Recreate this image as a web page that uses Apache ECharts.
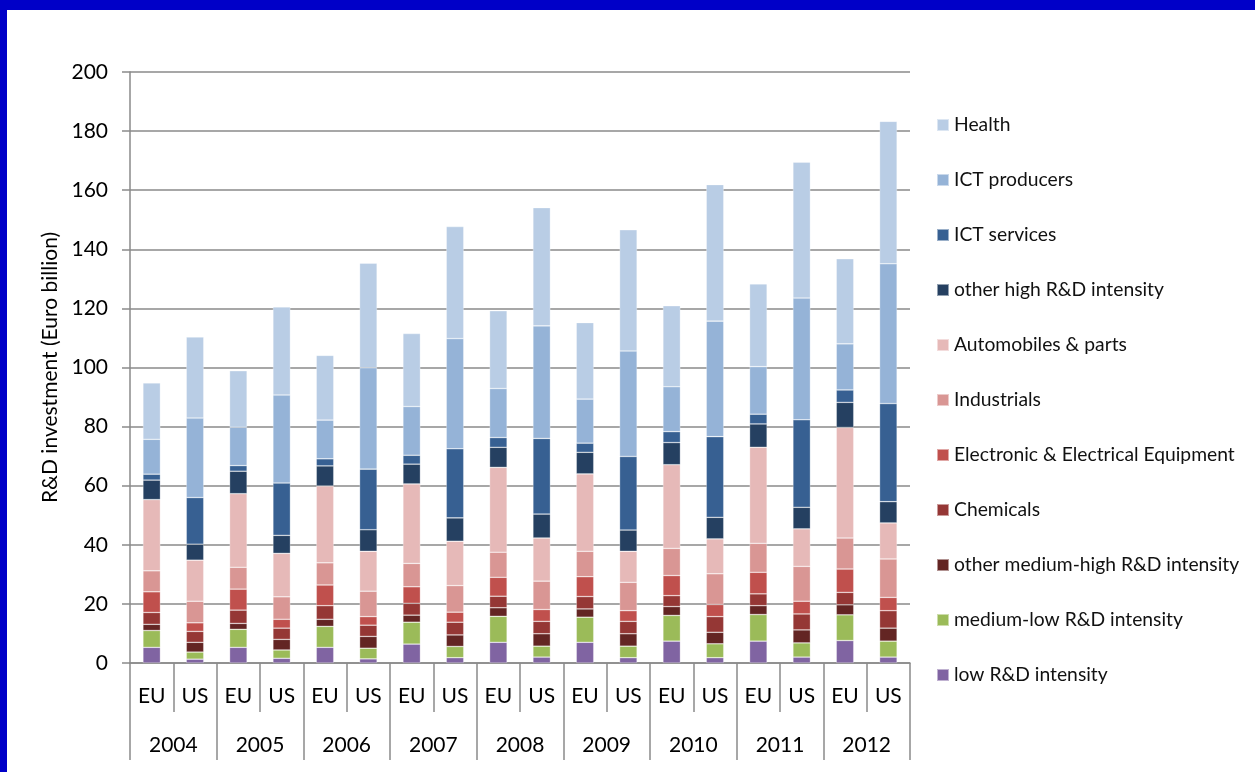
<!DOCTYPE html>
<html>
<head>
<meta charset="utf-8">
<title>R&amp;D investment EU vs US</title>
<script src="https://cdn.jsdelivr.net/npm/echarts@6/dist/echarts.min.js"></script>
<style>
  html, body { margin: 0; padding: 0; background: #fff; }
  #frame { position: absolute; left: 0; top: 0; width: 1255px; height: 772px; overflow: hidden; }
  #topbar { position: absolute; left: 0; top: 0; width: 1255px; height: 10px; background: #0000c8; }
  #leftbar { position: absolute; left: 0; top: 0; width: 7px; height: 772px; background: #0000c8; }
  #main { position: absolute; left: 0; top: 0; width: 1255px; height: 772px; }
</style>
</head>
<body>
<div id="frame">
  <div id="main"></div>
  <div id="topbar"></div>
  <div id="leftbar"></div>
</div>
<script type="text/javascript">
// bars: EU/US for each year
var regions = ['EU','US','EU','US','EU','US','EU','US','EU','US','EU','US','EU','US','EU','US','EU','US'];
var years = ['2004','2005','2006','2007','2008','2009','2010','2011','2012'];

// values in Euro billion, stacked from bottom to top
var lowRD      = [5.3, 1.3, 5.3, 1.6, 5.3, 1.4, 6.4, 1.8, 7.0, 2.0, 7.0, 1.8, 7.4, 1.8, 7.4, 2.0, 7.6, 2.0];
var medLowRD   = [5.7, 2.4, 6.1, 2.8, 7.1, 3.6, 7.4, 3.8, 8.8, 3.7, 8.5, 3.9, 8.7, 4.7, 9.0, 4.8, 8.7, 5.4];
var otherMedHi = [2.1, 3.3, 2.0, 3.6, 2.4, 4.0, 2.4, 3.9, 2.9, 4.2, 2.8, 4.2, 3.0, 3.9, 3.0, 4.4, 3.4, 4.4];
var chemicals  = [4.0, 3.7, 4.5, 3.8, 4.6, 3.8, 4.0, 4.3, 3.9, 4.2, 4.2, 4.2, 3.7, 5.3, 4.0, 5.4, 4.2, 5.9];
var electronic = [7.0, 2.9, 7.1, 3.0, 7.0, 2.9, 5.6, 3.4, 6.4, 4.0, 6.7, 3.6, 6.8, 4.1, 7.3, 4.3, 7.9, 4.5];
var industrials= [7.1, 7.3, 7.4, 7.6, 7.5, 8.6, 7.9, 9.0, 8.5, 9.6, 8.6, 9.6, 9.2, 10.4, 9.8, 11.8, 10.5, 13.0];
var automobiles= [24.1, 13.9, 24.9, 14.7, 26.0, 13.5, 26.9, 15.0, 28.7, 14.6, 26.2, 10.5, 28.3, 11.8, 32.5, 12.7, 37.4, 12.2];
var otherHigh  = [6.6, 5.4, 7.6, 6.1, 6.8, 7.3, 6.7, 7.9, 6.8, 8.1, 7.3, 7.2, 7.5, 7.3, 7.9, 7.3, 8.5, 7.2];
var ictServices= [2.0, 15.8, 1.9, 17.7, 2.4, 20.5, 3.0, 23.4, 3.3, 25.6, 3.1, 24.9, 3.7, 27.3, 3.3, 29.6, 4.2, 33.2];
var ictProducers=[11.8, 26.9, 13.0, 29.8, 13.1, 34.3, 16.5, 37.3, 16.6, 38.1, 14.9, 35.7, 15.2, 39.1, 16.1, 41.2, 15.6, 47.3];
var health     = [19.1, 27.4, 19.1, 29.8, 21.9, 35.4, 24.7, 37.9, 26.3, 40.0, 25.9, 41.0, 27.4, 46.2, 28.0, 46.0, 28.8, 48.2];

var yTicks = [0, 20, 40, 60, 80, 100, 120, 140, 160, 180, 200];

var font = 'Lato, "Open Sans", sans-serif';
var gray = '#8a8a8a';

var layers = [
  { name: 'low R&D intensity', data: lowRD, color: '#8064a2' },
  { name: 'medium-low R&D intensity', data: medLowRD, color: '#9bbb59' },
  { name: 'other medium-high R&D intensity', data: otherMedHi, color: '#632523' },
  { name: 'Chemicals', data: chemicals, color: '#953735' },
  { name: 'Electronic & Electrical Equipment', data: electronic, color: '#c0504d' },
  { name: 'Industrials', data: industrials, color: '#d99694' },
  { name: 'Automobiles & parts', data: automobiles, color: '#e6b9b8' },
  { name: 'other high R&D intensity', data: otherHigh, color: '#254061' },
  { name: 'ICT services', data: ictServices, color: '#376092' },
  { name: 'ICT producers', data: ictProducers, color: '#95b3d7' },
  { name: 'Health', data: health, color: '#b9cde5' }
];

var series = layers.map(function (l) {
  return {
    name: l.name,
    type: 'bar',
    stack: 'total',
    barWidth: 17.5,
    itemStyle: { color: l.color, borderColor: 'rgba(255,255,255,0.5)', borderWidth: 0.6 },
    data: l.data
  };
});

var myChart = echarts.init(document.getElementById('main'));

var option = {
  animation: false,
  color: layers.map(function (l) { return l.color; }),
  grid: { left: 130, right: 345, top: 72, bottom: 109, containLabel: false },
  legend: {
    orient: 'vertical',
    left: 931,
    top: 109,
    icon: 'rect',
    itemWidth: 12,
    itemHeight: 12,
    itemGap: 33,
    textStyle: { fontFamily: font, fontSize: 19.3, color: '#111', lineHeight: 22 },
    data: layers.map(function (l) { return l.name; }).reverse()
  },
  xAxis: [
    {
      type: 'category',
      position: 'bottom',
      data: regions,
      axisLine: { lineStyle: { color: gray, width: 1.5 } },
      axisTick: { show: true, interval: 0, length: 49, lineStyle: { color: gray, width: 1.5 } },
      axisLabel: { interval: 0, margin: 23, fontFamily: font, fontSize: 21, color: '#000' }
    },
    {
      type: 'category',
      position: 'bottom',
      offset: 0,
      data: years,
      axisLine: { show: false },
      axisTick: { show: true, interval: 0, length: 97, lineStyle: { color: gray, width: 1.5 } },
      axisLabel: { interval: 0, margin: 72, fontFamily: font, fontSize: 21, color: '#000' }
    }
  ],
  yAxis: {
    type: 'value',
    min: yTicks[0],
    max: yTicks[yTicks.length - 1],
    interval: 20,
    name: 'R&D investment (Euro billion)',
    nameLocation: 'middle',
    nameGap: 68,
    nameTextStyle: { fontFamily: font, fontSize: 21, color: '#000' },
    axisLine: { show: true, lineStyle: { color: gray, width: 1.5 } },
    axisTick: { show: true, length: 8, lineStyle: { color: gray, width: 1.5 } },
    splitLine: { show: true, lineStyle: { color: gray, width: 1.5 } },
    axisLabel: { margin: 22, fontFamily: font, fontSize: 21, color: '#000' }
  },
  series: series
};
myChart.setOption(option);
</script>
</body>
</html>
